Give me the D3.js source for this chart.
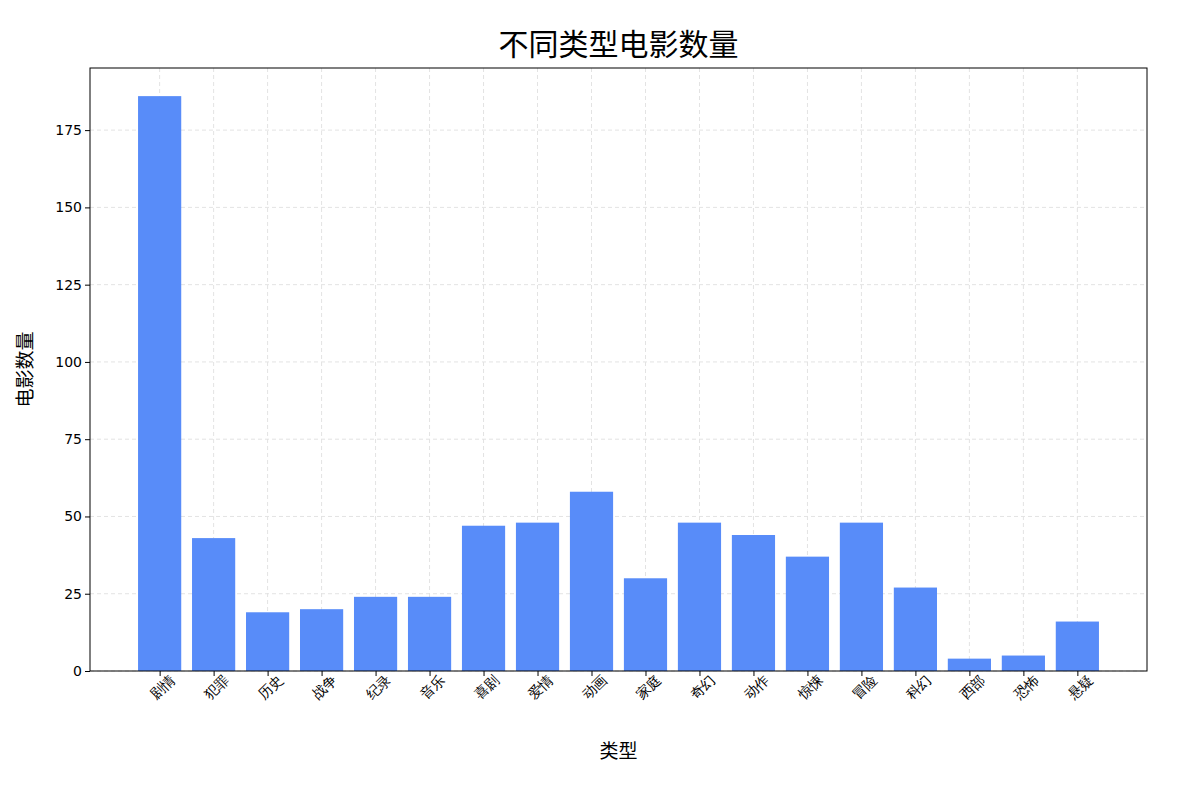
<!DOCTYPE html>
<html><head><meta charset="utf-8">
<script src="https://cdn.jsdelivr.net/npm/d3@7"></script>
<style>body{margin:0;background:#fff;font-family:"Noto Sans CJK SC",sans-serif;}</style>
</head><body><div id="chart"></div>
<script>
const genres = ["剧情","犯罪","历史","战争","纪录","音乐","喜剧","爱情","动画","家庭","奇幻","动作","惊悚","冒险","科幻","西部","恐怖","悬疑"];
const counts = [186,43,19,20,24,24,47,48,58,30,48,44,37,48,27,4,5,16];
const yTicks = [0,25,50,75,100,125,150,175];

const W = 1179, H = 785;
const m = {left:90, right:32, top:68, bottom:114};
const pw = W - m.left - m.right, ph = H - m.top - m.bottom;

const svg = d3.select("#chart").append("svg").attr("width", W).attr("height", H);
const g = svg.append("g").attr("transform", `translate(${m.left},${m.top})`);

const x = d3.scaleLinear().domain([-1.29, genres.length - 1 + 1.29]).range([0, pw]);
const y = d3.scaleLinear().domain([0, 195.1]).range([ph, 0]);
const bw = x(0.8) - x(0);

// 网格
g.selectAll(".vg").data(genres).enter().append("line")
  .attr("x1", (d,i) => x(i)).attr("x2", (d,i) => x(i)).attr("y1", 0).attr("y2", ph)
  .attr("stroke", "#e3e3e3").attr("stroke-dasharray", "4,3");
g.selectAll(".hg").data(yTicks).enter().append("line")
  .attr("x1", 0).attr("x2", pw).attr("y1", d => y(d)).attr("y2", d => y(d))
  .attr("stroke", "#e3e3e3").attr("stroke-dasharray", "4,3");

// 막대
g.selectAll(".bar").data(counts).enter().append("rect")
  .attr("x", (d,i) => x(i) - bw/2).attr("width", bw)
  .attr("y", d => y(d)).attr("height", d => ph - y(d))
  .attr("fill", "#588cf9");

// 축
const xAxis = g.append("g").attr("transform", `translate(0,${ph})`)
  .call(d3.axisBottom(x).tickValues(d3.range(genres.length)).tickFormat(i => genres[i]).tickSizeOuter(0).tickSize(5));
xAxis.selectAll("text").attr("font-size", 14).attr("fill", "#000")
  .attr("text-anchor", "end").attr("dx", "0.3em").attr("dy", "0.7em")
  .attr("transform", "rotate(-45)");
const yAxis = g.append("g")
  .call(d3.axisLeft(y).tickValues(yTicks).tickSizeOuter(0).tickSize(5));
yAxis.selectAll("text").attr("font-size", 14).attr("fill", "#000").attr("font-family", "DejaVu Sans");
g.selectAll(".domain").remove();
g.append("rect").attr("width", pw).attr("height", ph).attr("fill", "none").attr("stroke", "#000");

svg.append("text").attr("x", m.left + pw/2).attr("y", 55).attr("text-anchor", "middle")
  .attr("font-size", 30).text("不同类型电影数量");
svg.append("text").attr("x", m.left + pw/2).attr("y", 758).attr("text-anchor", "middle")
  .attr("font-size", 19).text("类型");
svg.append("text").attr("transform", `translate(32,${m.top + ph/2}) rotate(-90)`).attr("text-anchor", "middle")
  .attr("font-size", 19).text("电影数量");
</script></body></html>
